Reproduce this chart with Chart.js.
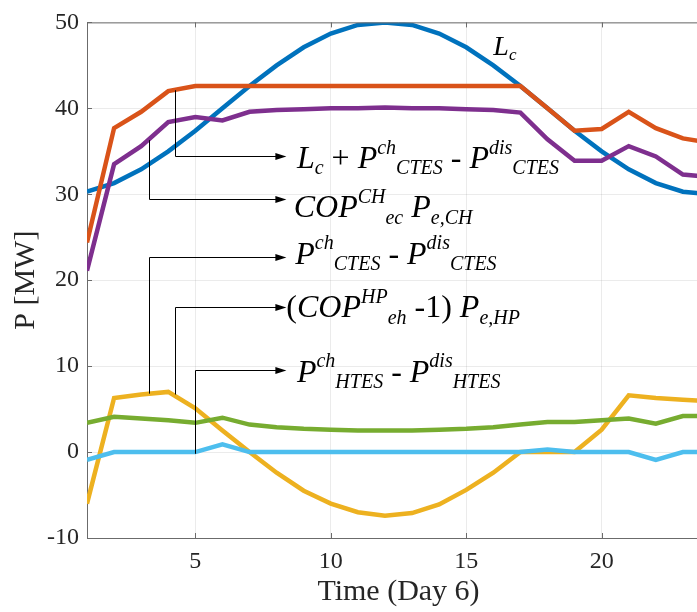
<!DOCTYPE html>
<html>
<head>
<meta charset="utf-8">
<title>P [MW] - Time (Day 6)</title>
<script src="https://cdn.jsdelivr.net/npm/chart.js@4.4.1/dist/chart.umd.min.js"></script>
<style>
  html, body { margin: 0; padding: 0; background: #fff; overflow: hidden; }
  #wrap { position: relative; width: 720px; height: 612px; }
</style>
</head>
<body>
<div id="wrap"><canvas id="powerChart"></canvas></div>
<script>
// ===== hourly values, day 6 =====
const hours = [1, 2, 3, 4, 5, 6, 7, 8, 9, 10, 11, 12, 13, 14, 15, 16, 17, 18, 19, 20, 21, 22, 23, 24];
const coolingLoad   = [30.3, 31.3, 32.9, 35.0, 37.4, 40.0, 42.6, 45.0, 47.1, 48.7, 49.7, 50.0, 49.7, 48.7, 47.1, 45.0, 42.6, 40.0, 37.4, 35.0, 32.9, 31.3, 30.3, 30.0];
const coolingSupply = [24.4, 37.7, 39.6, 42.0, 42.6, 42.6, 42.6, 42.6, 42.6, 42.6, 42.6, 42.6, 42.6, 42.6, 42.6, 42.6, 42.6, 40.0, 37.4, 37.6, 39.6, 37.7, 36.5, 36.0];
const chillerOutput = [21.1, 33.5, 35.6, 38.4, 39.0, 38.6, 39.6, 39.8, 39.9, 40.0, 40.0, 40.1, 40.0, 40.0, 39.9, 39.8, 39.5, 36.4, 33.9, 33.9, 35.6, 34.4, 32.3, 32.0];
const ctesNet       = [-6.0, 6.3, 6.7, 7.0, 5.1, 2.5, 0.0, -2.4, -4.5, -6.0, -7.0, -7.4, -7.1, -6.1, -4.4, -2.4, 0.0, 0.0, 0.0, 2.6, 6.6, 6.3, 6.1, 5.9];
const heatPumpHeat  = [3.4, 4.1, 3.9, 3.7, 3.4, 4.0, 3.2, 2.9, 2.7, 2.6, 2.5, 2.5, 2.5, 2.6, 2.7, 2.9, 3.2, 3.5, 3.5, 3.7, 3.9, 3.3, 4.2, 4.2];
const htesNet       = [-0.9, 0.0, 0.0, 0.0, 0.0, 0.9, 0.0, 0.0, 0.0, 0.0, 0.0, 0.0, 0.0, 0.0, 0.0, 0.0, 0.0, 0.3, 0.0, 0.0, 0.0, -0.9, 0.0, 0.0];

const xTicks = [5, 10, 15, 20];
const yTicks = [-10, 0, 10, 20, 30, 40, 50];

// MATLAB default colour order
const seriesColors = ['#0072BD', '#D95319', '#EDB120', '#7E2F8E', '#77AC30', '#4DBEEE'];

const SERIF = '"Liberation Serif", "Times New Roman", serif';

// callouts: elbow line from a curve to an arrow, then the expression
// seg kinds: i = italic, r = roman, sup / sub = small italic raised / lowered
const callouts = [
  { x: 4.25, y0: 42.1, y1: 34.4, tip: 8.36, tx: 8.75, ty: 33.05,
    segs: [['L','i'],['c','sub'],[' + ','r'],['P','i'],['ch','sup'],['CTES','sub'],[' - ','r'],['P','i'],['dis','sup'],['CTES','sub']] },
  { x: 3.28, y0: 36.3, y1: 29.5, tip: 8.36, tx: 8.63, ty: 27.3,
    segs: [['COP','i'],['CH','sup'],['ec','sub'],[' ','r'],['P','i'],['e,CH','sub']] },
  { x: 3.28, y0: 6.8, y1: 22.7, tip: 8.36, tx: 8.69, ty: 21.9,
    segs: [['P','i'],['ch','sup'],['CTES','sub'],[' - ','r'],['P','i'],['dis','sup'],['CTES','sub']] },
  { x: 4.25, y0: 6.7, y1: 16.9, tip: 8.36, tx: 8.36, ty: 15.7,
    segs: [['(','r'],['COP','i'],['HP','sup'],['eh','sub'],[' -1) ','r'],['P','i'],['e,HP','sub']] },
  { x: 5.0, y0: -0.2, y1: 9.55, tip: 8.36, tx: 8.75, ty: 8.2,
    segs: [['P','i'],['ch','sup'],['HTES','sub'],[' - ','r'],['P','i'],['dis','sup'],['HTES','sub']] }
];
const curveLabel = { x: 16.0, y: 46.25, segs: [['L','i'],['c','sub']] };

function drawRich(ctx, segs, x, y, size) {
  const small = Math.round(size * 0.62);
  segs.forEach(([txt, kind]) => {
    let dy = 0;
    if (kind === 'sup') { ctx.font = `italic ${small}px ${SERIF}`; dy = -size * 0.45; }
    else if (kind === 'sub') { ctx.font = `italic ${small}px ${SERIF}`; dy = size * 0.2; }
    else if (kind === 'r') { ctx.font = `${size}px ${SERIF}`; }
    else { ctx.font = `italic ${size}px ${SERIF}`; }
    ctx.fillText(txt, x, y + dy);
    x += ctx.measureText(txt).width;
  });
}

const axisExtras = {
  id: 'axisExtras',
  afterDatasetsDraw(chart) {
    const { ctx, chartArea: a, scales: { x, y } } = chart;
    ctx.save();
    // top box edge and inward tick marks
    ctx.strokeStyle = '#6b6b6b';
    ctx.lineWidth = 1;
    ctx.beginPath();
    ctx.moveTo(a.left, a.top + 0.5);
    ctx.lineTo(a.right, a.top + 0.5);
    xTicks.forEach(v => {
      const px = Math.round(x.getPixelForValue(v)) + 0.5;
      ctx.moveTo(px, a.bottom); ctx.lineTo(px, a.bottom - 5);
      ctx.moveTo(px, a.top); ctx.lineTo(px, a.top + 5);
    });
    yTicks.forEach(v => {
      const py = Math.round(y.getPixelForValue(v)) + 0.5;
      ctx.moveTo(a.left, py); ctx.lineTo(a.left + 5, py);
    });
    ctx.stroke();

    // callout arrows
    ctx.strokeStyle = '#000';
    ctx.fillStyle = '#000';
    ctx.lineWidth = 1;
    callouts.forEach(c => {
      const px = Math.round(x.getPixelForValue(c.x)) + 0.5;
      const p0 = y.getPixelForValue(c.y0);
      const p1 = Math.round(y.getPixelForValue(c.y1)) + 0.5;
      const tip = x.getPixelForValue(c.tip);
      ctx.beginPath();
      ctx.moveTo(px, p0);
      ctx.lineTo(px, p1);
      ctx.lineTo(tip - 8, p1);
      ctx.stroke();
      ctx.beginPath();
      ctx.moveTo(tip, p1);
      ctx.lineTo(tip - 11, p1 - 3.5);
      ctx.lineTo(tip - 11, p1 + 3.5);
      ctx.closePath();
      ctx.fill();
    });

    // expressions
    ctx.fillStyle = '#000';
    ctx.textBaseline = 'alphabetic';
    ctx.textAlign = 'left';
    callouts.forEach(c => {
      drawRich(ctx, c.segs, x.getPixelForValue(c.tx), y.getPixelForValue(c.ty), 32);
    });
    drawRich(ctx, curveLabel.segs, x.getPixelForValue(curveLabel.x), y.getPixelForValue(curveLabel.y), 28);
    ctx.restore();
  }
};

const seriesList = [coolingLoad, coolingSupply, ctesNet, chillerOutput, heatPumpHeat, htesNet];

const ctx = document.getElementById('powerChart').getContext('2d');
const powerChart = new Chart(ctx, {
  type: 'line',
  data: {
    datasets: seriesList.map((vals, i) => ({
      data: hours.map((h, k) => ({ x: h, y: vals[k] })),
      borderColor: seriesColors[i],
      borderWidth: 4.5,
      pointRadius: 0,
      tension: 0,
      fill: false,
      order: seriesList.length - i   // later series drawn on top
    }))
  },
  options: {
    responsive: true,
    maintainAspectRatio: false,
    animation: false,
    devicePixelRatio: 1,
    layout: { padding: { top: 18, right: 10, left: 0, bottom: 0 } },
    plugins: { legend: { display: false }, tooltip: { enabled: false } },
    scales: {
      x: {
        type: 'linear',
        min: 1,
        max: 24,
        afterBuildTicks: s => { s.ticks = xTicks.map(v => ({ value: v })); },
        afterFit: s => { s.height = 74; },
        grid: { color: 'rgba(0,0,0,0.08)', drawTicks: false },
        border: { display: true, color: '#6b6b6b', width: 1 },
        ticks: { color: '#262626', padding: 9, font: { family: SERIF, size: 24 } },
        title: { display: true, text: 'Time (Day 6)', color: '#262626', padding: { top: 0, bottom: 2 }, font: { family: SERIF, size: 30 } }
      },
      y: {
        min: -10,
        max: 50,
        afterBuildTicks: s => { s.ticks = yTicks.map(v => ({ value: v })); },
        afterFit: s => { s.width = 87; },
        grid: { color: 'rgba(0,0,0,0.08)', drawTicks: false },
        border: { display: true, color: '#6b6b6b', width: 1 },
        ticks: { color: '#262626', padding: 8, font: { family: SERIF, size: 24 } },
        title: { display: true, text: 'P [MW]', color: '#262626', padding: { top: 8, bottom: 0 }, font: { family: SERIF, size: 30 } }
      }
    }
  },
  plugins: [axisExtras]
});
</script>
</body>
</html>
